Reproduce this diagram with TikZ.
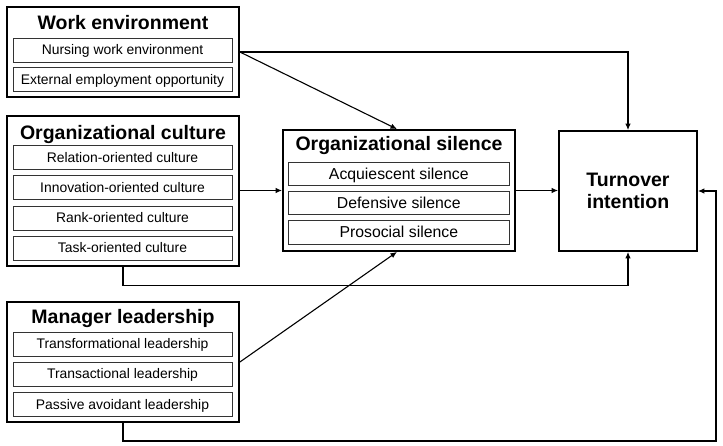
\documentclass[tikz,border=0pt]{standalone}
\usepackage{fontspec}
\setmainfont{Liberation Sans}
\usetikzlibrary{arrows.meta}
\begin{document}
\begin{tikzpicture}[x=1pt,y=-1pt,
  outerbox/.style={draw=black,line width=1.8pt,inner sep=0pt},
  subbox/.style={draw=black!80,line width=0.8pt,inner sep=0pt,minimum width=219pt,minimum height=24pt,
     font=\fontsize{13.9}{16}\selectfont,text height=9.9pt,text depth=0pt},
  silbox/.style={draw=black!80,line width=0.8pt,inner sep=0pt,minimum width=220.5pt,minimum height=23.5pt,
     font=\fontsize{15.8}{18}\selectfont,text height=11.3pt,text depth=0pt},
  titletext/.style={anchor=base,inner sep=0pt,font=\fontsize{19.5}{23}\selectfont\bfseries},
  conn/.style={line width=1.1pt,black},
  arr/.style={conn,-{Latex[length=6.5pt,width=5.5pt]}}
]
\useasboundingbox (0,0) rectangle (723,446);
% Work environment
\node[outerbox,minimum width=232pt,minimum height=90pt] (we) at (123,52) {};
\node[titletext] (wet) at (123,29.5) {Work environment};
\node[subbox] (nurse) at (122.5,50) {Nursing work environment};
\node[subbox] (ext) at (122.5,79.3) {External employment opportunity};
% Organizational culture
\node[outerbox,minimum width=232pt,minimum height=150pt] (cult) at (123,191) {};
\node[titletext] (cultt) at (123,139.5) {Organizational culture};
\node[subbox] (rel) at (122.5,157.3) {Relation-oriented culture};
\node[subbox] (inn) at (122.5,187.8) {Innovation-oriented culture};
\node[subbox] (rank) at (122.5,218) {Rank-oriented culture};
\node[subbox] (task) at (122.5,248) {Task-oriented culture};
% Manager leadership
\node[outerbox,minimum width=232pt,minimum height=120pt] (mgr) at (123,362) {};
\node[titletext] (mgrt) at (123,323.3) {Manager leadership};
\node[subbox] (trf) at (122.5,344) {Transformational leadership};
\node[subbox] (trs) at (122.5,374) {Transactional leadership};
\node[subbox] (pas) at (122.5,404.2) {Passive avoidant leadership};
% Organizational silence
\node[outerbox,minimum width=232pt,minimum height=121pt] (sil) at (399,190.5) {};
\node[titletext] (silt) at (399,151) {Organizational silence};
\node[silbox] (acq) at (398.8,173.8) {Acquiescent silence};
\node[silbox] (def) at (398.8,202.7) {Defensive silence};
\node[silbox] (pro) at (398.8,232.3) {Prosocial silence};
% Turnover intention
\node[outerbox,minimum width=138pt,minimum height=120pt,align=center,
      font=\fontsize{19.5}{22.7}\selectfont\bfseries] (turn) at (628,191) {Turnover\\intention};
% connectors
\coordinate (weout) at ([yshift=-2pt]we.east |- nurse.center);
\coordinate (rt) at (716,441);
\draw[arr] (weout) -| (turn.north);
\draw[arr] (weout) -- ([xshift=-2pt]sil.north);
\draw[arr] (cult.east |- sil.west) -- (sil.west);
\draw[arr] (sil.east) -- (sil.east -| turn.west);
\draw[arr] (cult.south) -- ++(0,19) -| (turn.south);
\draw[arr] (mgr.east) -- ([xshift=-2pt]sil.south);
\draw[arr] (mgr.south) |- (rt) |- (turn.east);
\end{tikzpicture}
\end{document}
